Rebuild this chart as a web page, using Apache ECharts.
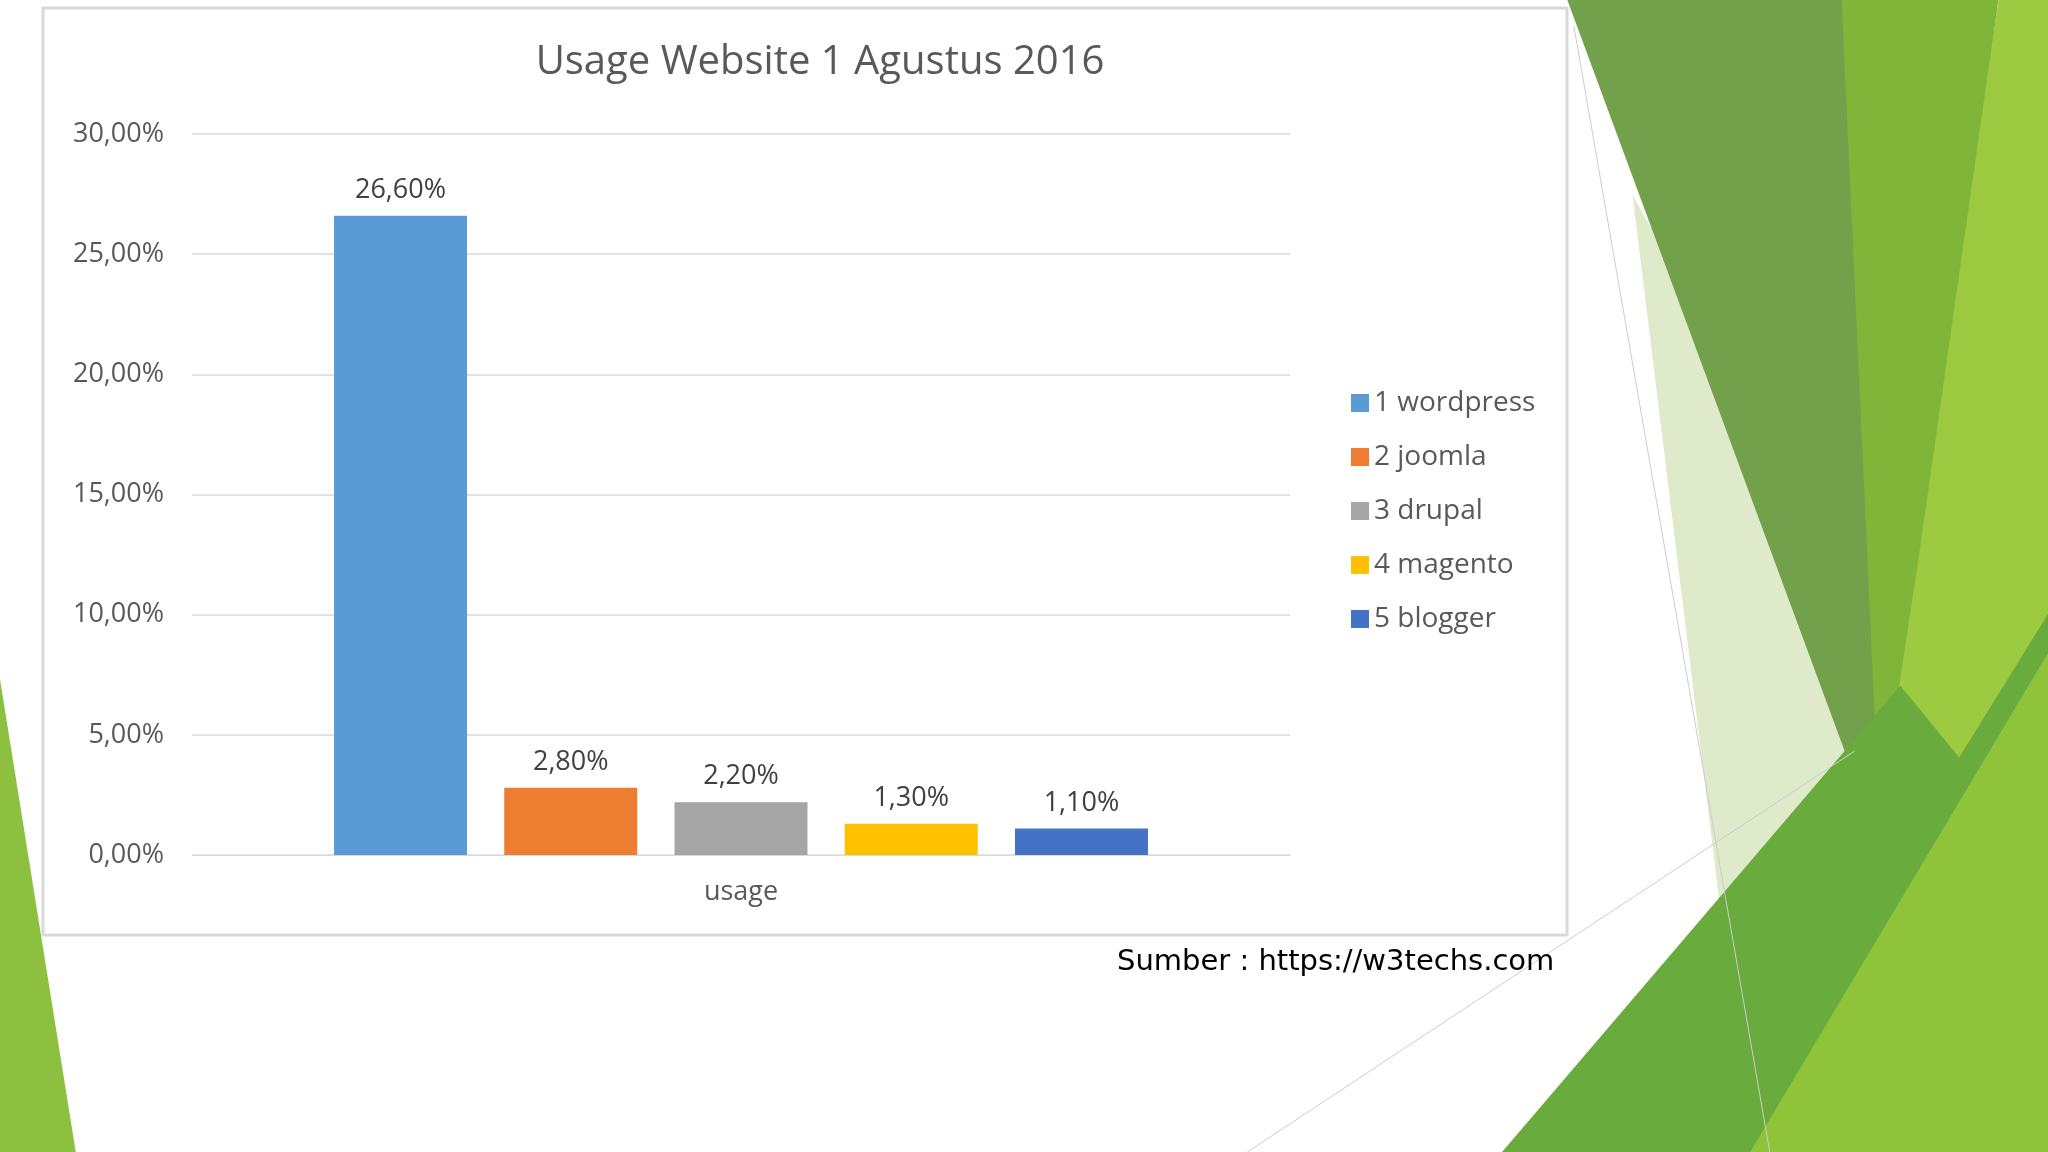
<!DOCTYPE html>
<html>
<head>
<meta charset="utf-8">
<script src="https://cdn.jsdelivr.net/npm/echarts@6/dist/echarts.min.js"></script>
<style>html,body{margin:0;height:100%;background:#fff}#main{width:2048px;height:1152px}</style>
</head>
<body>
<div id="main"></div>
<script>
var categories = ['usage'];
var seriesNames = ['1 wordpress', '2 joomla', '3 drupal', '4 magento', '5 blogger'];
var seriesValues = [26.6, 2.8, 2.2, 1.3, 1.1];
var colors = ['#5b9bd5', '#ed7d31', '#a5a5a5', '#ffc000', '#4472c4'];

var k = 2048 / 1568;
function poly(pts, fill) {
    return { type: 'polygon', z: -10, shape: { points: pts.map(function (p) { return [p[0] * k, p[1] * k]; }) }, style: { fill: fill } };
}
var fmt = function (v) { return v.toFixed(2).replace('.', ',') + '%'; };

var chart = echarts.init(document.getElementById('main'));
chart.setOption({
    textStyle: { fontFamily: 'Open Sans' },
    title: {
        text: 'Usage Website 1 Agustus 2016', left: 815, top: 38, textAlign: 'center',
        textStyle: { color: '#595959', fontSize: 40, fontWeight: 'normal' }
    },
    legend: {
        orient: 'vertical', left: 1346, top: 384, itemGap: 26, itemWidth: 18, itemHeight: 18,
        icon: 'rect', textStyle: { color: '#595959', fontSize: 28 }, data: seriesNames
    },
    grid: { left: 192, right: 2048 - 1290, top: 134, bottom: 1152 - 855 },
    xAxis: {
        type: 'category', data: categories,
        axisLine: { lineStyle: { color: '#d9d9d9' } }, axisTick: { show: false },
        axisLabel: { color: '#595959', fontSize: 27, margin: 24 }
    },
    yAxis: {
        type: 'value', min: 0, max: 30, interval: 5,
        axisLabel: { color: '#595959', fontSize: 27, margin: 28, formatter: fmt },
        splitLine: { lineStyle: { color: '#d9d9d9', width: 1.5 } }
    },
    series: seriesNames.map(function (n, i) {
        return {
            name: n, type: 'bar', barWidth: 133, barGap: '28%',
            itemStyle: { color: colors[i] },
            label: { show: true, position: 'top', distance: 12, color: '#404040', fontSize: 27, formatter: function (p) { return fmt(p.value); } },
            data: [seriesValues[i]]
        };
    }),
    graphic: [
        { type: 'rect', z: -5, shape: { x: 43, y: 8, width: 1524, height: 927 }, style: { fill: '#fff', stroke: '#d9d9d9', lineWidth: 3 } },
        poly([[0, 520], [0, 882], [58, 882]], '#8dc03f'),
        poly([[1250, 150], [1500, 580], [1190, 882], [1340, 882]], '#dfeacb'),
        poly([[1200, 0], [1420, 0], [1470, 420], [1440, 650]], '#73a04a'),
        poly([[1410, 0], [1530, 0], [1475, 420], [1440, 650]], '#80b53a'),
        poly([[1530, 0], [1568, 0], [1568, 882], [1400, 882], [1470, 420]], '#9ccb42'),
        poly([[1150, 882], [1455, 525], [1500, 580], [1568, 470], [1568, 882]], '#6aab3e'),
        poly([[1340, 882], [1568, 500], [1568, 882]], '#8fc33a'),
        { type: 'polyline', z: -4, shape: { points: [[1205 * k, 20 * k], [1355 * k, 882 * k]] }, style: { stroke: '#ccc', lineWidth: 1 } },
        { type: 'polyline', z: -4, shape: { points: [[955 * k, 882 * k], [1420 * k, 575 * k]] }, style: { stroke: '#ccc', lineWidth: 1 } },
        { type: 'text', left: 1117, top: 948, style: { text: 'Sumber : https://w3techs.com', fill: '#000', fontSize: 29, fontFamily: 'DejaVu Sans' } }
    ]
});
</script>
</body>
</html>
